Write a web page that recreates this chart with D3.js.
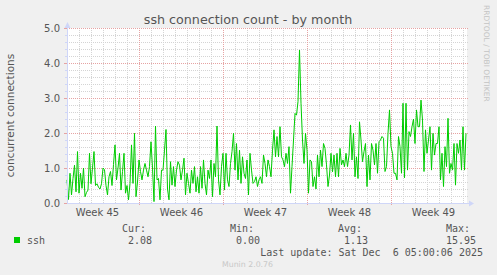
<!DOCTYPE html>
<html>
<head>
<meta charset="utf-8">
<script src="https://cdn.jsdelivr.net/npm/d3@7"></script>
<style>
  body { margin: 0; background: #F0F0F0; }
  svg { display: block; }
  text { font-family: "DejaVu Sans", sans-serif; fill: #555; }
  .mono { font-family: "DejaVu Sans Mono", monospace; font-size: 10px; }
</style>
</head>
<body>
<script>
// ssh connection count, one value every 3 hours
const startTime = "2025-11-03T00:00:00Z";
const endTime = "2025-12-06T08:00:00Z";
const stepHours = 3;
const sshValues = [
  0.66, 0.10, 0.85, 0.23, 0.70, 1.08, 0.32, 1.47, 0.28, 0.85,
  0.42, 1.00, 0.18, 0.30, 0.37, 1.42, 0.55, 1.00, 1.47, 0.50,
  0.55, 0.45, 0.40, 0.55, 1.00, 0.95, 0.50, 0.23, 0.75, 0.90,
  0.50, 1.10, 1.66, 0.66, 1.00, 1.42, 0.37, 0.90, 1.42, 0.28,
  0.50, 0.09, 0.56, 1.66, 0.56, 1.99, 0.18, 0.60, 1.23, 0.90,
  0.66, 0.94,
  1.13, 0.94, 0.75, 1.04, 1.75, 1.00, 0.04, 2.20, 0.66, 0.70,
  0.09, 0.94, 0.94, 1.51, 2.10, 0.40, 0.09, 1.18, 0.51, 1.04,
  0.47, 0.94, 1.18, 1.08, 0.66, 0.94, 1.28, 0.23, 0.85, 0.56,
  0.28, 0.94, 0.56, 1.04, 0.32, 0.75, 0.28, 1.04, 0.42, 1.23,
  0.56, 0.23, 0.94, 0.70, 1.23, 0.18, 1.13, 0.75, 2.20, 0.66,
  0.23, 1.04, 1.42, 0.37, 1.42,
  0.66, 0.47, 1.13, 1.47, 1.99, 0.94, 1.70, 0.66, 1.51, 0.56,
  1.32, 0.85, 0.70, 1.23, 0.23, 1.42, 0.94, 0.56, 0.61, 0.75,
  0.47, 0.66, 0.75, 0.56, 1.37, 1.13, 0.75, 1.23, 1.04, 0.75,
  1.51, 2.09, 1.32, 1.90, 1.32, 2.18, 1.32, 1.23, 1.04, 1.42,
  1.13, 1.61, 0.28, 1.04, 1.80, 2.56, 2.51, 2.90, 4.37, 2.85,
  1.80, 1.13, 1.99, 1.51, 0.28, 1.23,
  1.18, 0.47, 0.75, 0.40, 1.37, 0.75, 1.51, 1.04, 1.70, 1.56,
  1.09, 0.47, 0.80, 1.42, 0.89, 1.37, 0.75, 1.42, 0.75, 1.56,
  1.09, 1.23, 1.04, 1.42, 1.04, 1.37, 2.23, 1.23, 1.99, 0.75,
  1.32, 0.70, 2.32, 1.80, 1.18, 1.47, 1.70, 0.47, 1.37, 0.66,
  1.70, 1.51, 1.09, 1.70, 0.85, 1.75, 1.80, 1.90, 1.85, 0.90,
  1.04, 1.99, 2.66, 1.61, 1.42, 0.85,
  0.85, 0.66, 1.90, 1.61, 0.85, 2.85, 0.72, 2.85, 0.94, 2.04,
  1.90, 2.18, 2.40, 1.70, 2.66, 2.18, 2.18, 2.94, 2.37, 0.90,
  2.09, 1.42, 1.80, 2.18, 0.94, 1.99, 1.37, 1.70, 1.70, 2.18,
  0.66, 1.42, 0.47, 1.61, 1.04, 2.42, 0.85, 1.13, 0.94, 1.70,
  0.51, 1.70, 1.42, 1.80, 0.94, 2.18, 0.94, 1.99
];
const yTicks = [0, 1, 2, 3, 4, 5];
const legendHeaders = ["Cur:", "Min:", "Avg:", "Max:"];
const legendValues = ["2.08", "0.00", "1.13", "15.95"];
const seriesName = "ssh";
const titleText = "ssh connection count - by month";
const yLabel = "concurrent connections";
const lastUpdate = "Last update: Sat Dec  6 05:00:06 2025";

const W = 497, H = 275;
const plot = { left: 67, right: 467, top: 28, bottom: 203 };

const svg = d3.select("body").append("svg")
    .attr("width", W)
    .attr("height", H);

svg.append("rect")
    .attr("width", W).attr("height", H)
    .attr("fill", "#F0F0F0");

const t0 = new Date(startTime);
const t1 = new Date(endTime);

const x = d3.scaleUtc()
    .domain([t0, t1])
    .range([plot.left, plot.right]);

const y = d3.scaleLinear()
    .domain([0, 5])
    .range([plot.bottom, plot.top]);

const data = sshValues.map((v, i) => ({ t: d3.utcHour.offset(t0, i * stepHours), v: v }));

// canvas
svg.append("rect")
    .attr("x", plot.left).attr("y", plot.top)
    .attr("width", plot.right - plot.left)
    .attr("height", plot.bottom - plot.top)
    .attr("fill", "#FFFFFF");

const crisp = v => Math.round(v) + 0.5;
const grid = svg.append("g").attr("shape-rendering", "crispEdges");

// minor grid: every 0.2 and every day
const minorY = d3.range(0, 5.001, 0.2).filter(v => Math.abs(v - Math.round(v)) > 1e-6);
grid.selectAll(".hmin").data(minorY).enter().append("line")
    .attr("x1", plot.left).attr("x2", plot.right + 1)
    .attr("y1", d => crisp(y(d))).attr("y2", d => crisp(y(d)))
    .attr("stroke", "#D4D4D4").attr("stroke-dasharray", "1,1");

const days = d3.utcDay.range(t0, t1).filter(d => d.getUTCDay() !== 0);
grid.selectAll(".vmin").data(days).enter().append("line")
    .attr("x1", d => crisp(x(d))).attr("x2", d => crisp(x(d)))
    .attr("y1", plot.top).attr("y2", plot.bottom)
    .attr("stroke", "#D4D4D4").attr("stroke-dasharray", "1,1");

// major grid: whole numbers and week starts
grid.selectAll(".hmaj").data(yTicks.filter(v => v > 0)).enter().append("line")
    .attr("x1", plot.left).attr("x2", plot.right + 1)
    .attr("y1", d => crisp(y(d))).attr("y2", d => crisp(y(d)))
    .attr("stroke", "#E6A3A3").attr("stroke-dasharray", "1,1");

const weeks = d3.utcSunday.range(t0, t1);
grid.selectAll(".vmaj").data(weeks).enter().append("line")
    .attr("x1", d => crisp(x(d))).attr("x2", d => crisp(x(d)))
    .attr("y1", plot.top).attr("y2", plot.bottom + 3)
    .attr("stroke", "#E6A3A3").attr("stroke-dasharray", "1,1");

// small ticks on the y axis
grid.selectAll(".ytk").data(minorY).enter().append("line")
    .attr("x1", plot.left - 2).attr("x2", plot.left)
    .attr("y1", d => crisp(y(d))).attr("y2", d => crisp(y(d)))
    .attr("stroke", "#CFD6F8");
grid.selectAll(".ytkM").data(yTicks).enter().append("line")
    .attr("x1", plot.left - 3).attr("x2", plot.left)
    .attr("y1", d => crisp(y(d))).attr("y2", d => crisp(y(d)))
    .attr("stroke", "#E6A3A3");

// data line
const line = d3.line()
    .x(d => x(d.t))
    .y(d => y(d.v));

svg.append("path")
    .datum(data)
    .attr("fill", "none")
    .attr("stroke", "#00CC00")
    .attr("stroke-width", 1)
    .attr("d", line);

// axes lines with arrows
const axisCol = "#CFD6F8";
svg.append("line")
    .attr("x1", plot.left).attr("x2", plot.right + 2)
    .attr("y1", crisp(plot.bottom)).attr("y2", crisp(plot.bottom))
    .attr("stroke", axisCol).attr("shape-rendering", "crispEdges");
svg.append("line")
    .attr("x1", crisp(plot.left)).attr("x2", crisp(plot.left))
    .attr("y1", plot.bottom + 1).attr("y2", plot.top - 2)
    .attr("stroke", axisCol).attr("shape-rendering", "crispEdges");
svg.append("path")
    .attr("d", `M${plot.right + 2},${plot.bottom - 2.5}L${plot.right + 7},${plot.bottom + 0.5}L${plot.right + 2},${plot.bottom + 3.5}Z`)
    .attr("fill", axisCol);
svg.append("path")
    .attr("d", `M${plot.left - 2.5},${plot.top}L${plot.left + 0.5},${plot.top - 6}L${plot.left + 3.5},${plot.top}Z`)
    .attr("fill", axisCol);

// y tick labels
const yAxis = d3.axisLeft(y)
    .tickValues(yTicks)
    .tickFormat(d3.format(".1f"))
    .tickSize(0)
    .tickPadding(7);
const gy = svg.append("g")
    .attr("transform", `translate(${plot.left},0)`)
    .call(yAxis);
gy.select(".domain").remove();
gy.selectAll("text")
    .attr("font-family", "DejaVu Sans")
    .attr("font-size", 10)
    .attr("fill", "#555");

// week labels in the middle of each week
const labelDates = d3.utcSunday.range(d3.utcSunday.floor(t0), t1)
    .map(d => d3.utcHour.offset(d, 84))
    .filter(d => d > t0 && d < t1);
const xAxis = d3.axisBottom(x)
    .tickValues(labelDates)
    .tickFormat(d3.utcFormat("Week %V"))
    .tickSize(0)
    .tickPadding(6);
const gx = svg.append("g")
    .attr("transform", `translate(0,${plot.bottom})`)
    .call(xAxis);
gx.select(".domain").remove();
gx.selectAll("text")
    .attr("font-family", "DejaVu Sans")
    .attr("font-size", 10)
    .attr("fill", "#555");

// title
svg.append("text")
    .attr("x", 248).attr("y", 24)
    .attr("text-anchor", "middle")
    .attr("font-size", 12.7)
    .text(titleText);

// y label
svg.append("text")
    .attr("transform", "translate(14,115.5) rotate(-90)")
    .attr("text-anchor", "middle")
    .attr("font-size", 10.5)
    .text(yLabel);

// watermark
svg.append("text")
    .attr("transform", "translate(484,5) rotate(90)")
    .attr("font-size", 7.5)
    .style("fill", "#C4C4C4")
    .text("RRDTOOL / TOBI OETIKER");

// legend
svg.append("rect")
    .attr("x", 14).attr("y", 237)
    .attr("width", 6).attr("height", 6)
    .attr("fill", "#00CC00");
svg.append("text")
    .attr("class", "mono")
    .attr("x", 27).attr("y", 243.5)
    .text(seriesName);

svg.selectAll(".lh").data(legendHeaders).enter().append("text")
    .attr("class", "mono")
    .attr("x", (d, i) => 146 + i * 108)
    .attr("y", 231.5)
    .attr("text-anchor", "end")
    .text(d => d);
svg.selectAll(".lv").data(legendValues).enter().append("text")
    .attr("class", "mono")
    .attr("x", (d, i) => 152 + i * 108)
    .attr("y", 243.5)
    .attr("text-anchor", "end")
    .text(d => d);

svg.append("text")
    .attr("class", "mono")
    .attr("x", 483).attr("y", 255.5)
    .attr("text-anchor", "end")
    .style("white-space", "pre")
    .attr("xml:space", "preserve")
    .text(lastUpdate);

svg.append("text")
    .attr("x", 247.5).attr("y", 267)
    .attr("text-anchor", "middle")
    .attr("font-size", 7.8)
    .style("fill", "#C8C8C8")
    .text("Munin 2.0.76");
</script>
</body>
</html>
